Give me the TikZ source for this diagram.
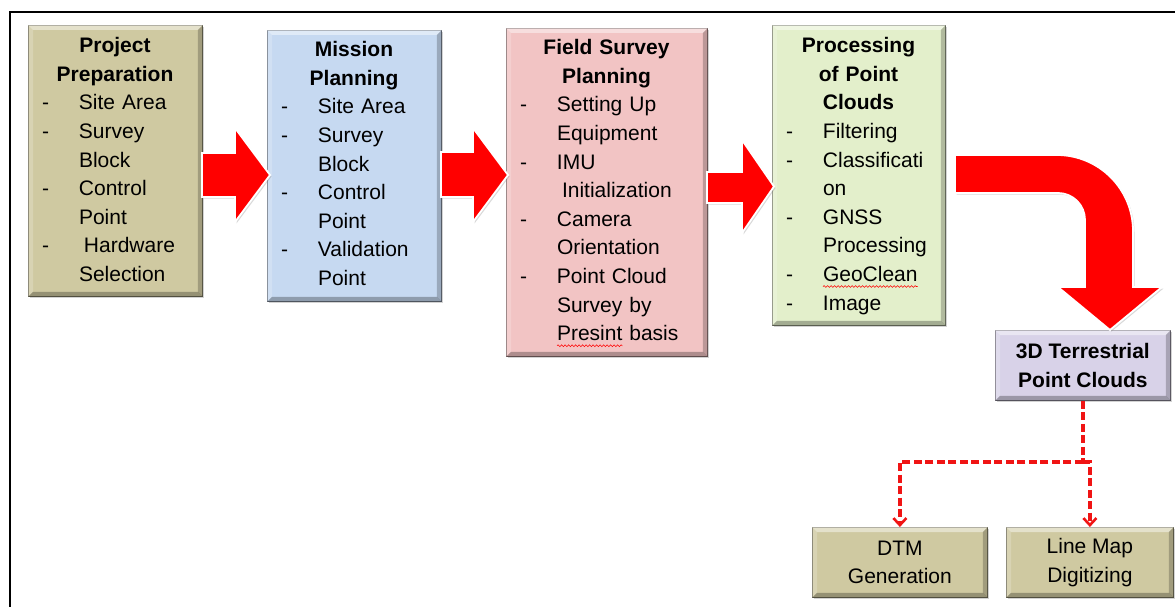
\documentclass[tikz,border=0pt]{standalone}
\usepackage{fontspec}
\setmainfont{Liberation Sans}
\usetikzlibrary{shadows,arrows.meta,decorations.pathmorphing}
\definecolor{tanc}{RGB}{207,201,161}
\definecolor{bluec}{RGB}{198,217,241}
\definecolor{pinkc}{RGB}{242,196,196}
\definecolor{greenc}{RGB}{227,239,203}
\definecolor{lavc}{RGB}{216,210,232}
\definecolor{arrred}{RGB}{255,0,0}
\definecolor{dashred}{RGB}{240,20,20}
\newcommand\tfont{\fontsize{21}{28.6}\selectfont}
\newcommand\nl{\hfil\break}
\newcommand\itm[1]{\par\hangindent=37pt\hangafter=1\noindent\makebox[37pt][l]{-}#1}
\newsavebox\spbox
\newlength\splen
\newcommand\spell[1]{\sbox\spbox{#1}\setlength\splen{\wd\spbox}\rlap{\usebox\spbox}\tikz[overlay,baseline=0pt,x=1pt,y=1pt]\draw[red,line width=.6pt,decorate,decoration={snake,amplitude=.9pt,segment length=3.5pt}] (0,-5) -- (\splen,-5);\hspace*{\splen}}
\tikzset{
  bevel/.style={rectangle, fill=#1, draw=#1!55!black, line width=.8pt, inner sep=0pt, anchor=north west,
    drop shadow={shadow xshift=2pt,shadow yshift=-2pt,opacity=.35}},
  txt/.style={anchor=north, inner sep=0pt, font=\tfont},
  blockarrow/.style={fill=arrred, draw=white, line width=1.8pt, line join=miter,
    drop shadow={shadow xshift=1.5pt,shadow yshift=-1.5pt,opacity=.3}},
  dashconn/.style={draw=dashred, line width=3.4pt, dash pattern=on 8pt off 3.5pt},
  barb/.style={-{Straight Barb[length=7pt,width=13pt,line width=2.6pt]}}
}
\begin{document}
\begin{tikzpicture}[x=1pt,y=1pt]
\useasboundingbox (0,0) rectangle (1175,-607);
% frame
\draw[line width=2pt] (10,-607) -- (10,-12.5) -- (1175,-12.5);

% boxes
\node[bevel=tanc, minimum width=174pt, minimum height=271pt] (b1) at (28,-25) {};
\node[bevel=bluec, minimum width=174pt, minimum height=271pt] (b2) at (267,-30) {};
\node[bevel=pinkc, minimum width=201pt, minimum height=328pt] (b3) at (506,-28) {};
\node[bevel=greenc, minimum width=173pt, minimum height=300pt] (b4) at (772,-25) {};
\node[bevel=lavc, minimum width=175pt, minimum height=70pt, font=\tfont\bfseries, align=center] (b5) at (995,-330) {3D Terrestrial\\Point Clouds};
\node[bevel=tanc, minimum width=175pt, minimum height=70pt, font=\tfont, align=center] (b6) at (812,-527) {DTM\\Generation};
\node[bevel=tanc, minimum width=167pt, minimum height=70pt, font=\tfont, align=center] (b7) at (1006,-527) {Line Map\\Digitizing};

% bevel effect
\foreach \n in {b1,b2,b3,b4,b5,b6,b7}{
  \fill[white,opacity=.45] (\n.north west) -- (\n.north east) -- ([shift={(-5,-5)}]\n.north east) -- ([shift={(5,-5)}]\n.north west) -- cycle;
  \fill[white,opacity=.2] (\n.north west) -- ([shift={(5,-5)}]\n.north west) -- ([shift={(5,5)}]\n.south west) -- (\n.south west) -- cycle;
  \fill[black,opacity=.22] (\n.north east) -- (\n.south east) -- ([shift={(-5,5)}]\n.south east) -- ([shift={(-5,-5)}]\n.north east) -- cycle;
  \fill[black,opacity=.28] (\n.south west) -- (\n.south east) -- ([shift={(-5,5)}]\n.south east) -- ([shift={(5,5)}]\n.south west) -- cycle;
}

% texts
\node[txt, text width=146pt] (t1) at (115,-32.5) {\raggedright
{\centering\bfseries\strut Project\\Preparation\par}%
\itm{Site Area}\itm{Survey\nl Block}\itm{Control\nl Point}\itm{\hspace*{5pt}Hardware\nl Selection}\par};
\node[txt, text width=146pt] (t2) at (354,-36.5) {\raggedright
{\centering\bfseries\strut Mission\\Planning\par}%
\itm{Site Area}\itm{Survey\nl Block}\itm{Control\nl Point}\itm{Validation\nl Point}\par};
\node[txt, text width=173pt] (t3) at (606.5,-34.5) {\raggedright
{\centering\bfseries\strut Field Survey\\Planning\par}%
\itm{Setting Up\nl Equipment}\itm{IMU\nl \hspace*{5pt}Initialization}\itm{Camera\nl Orientation}\itm{Point Cloud\nl Survey by\nl \spell{Presint} basis}\par};
\node[txt, text width=145pt] (t4) at (858.5,-32.5) {\raggedright
{\centering\bfseries\strut Processing\\of Point\\Clouds\par}%
\itm{Filtering}\itm{Classificati\nl on}\itm{GNSS\nl Processing}\itm{\spell{GeoClean}}\itm{Image}\par};

% block arrows
\path[blockarrow] (202,-153) -- (235,-153) -- (235,-128) -- (270,-175) -- (235,-222) -- (235,-197) -- (202,-197) -- cycle;
\path[blockarrow] (441,-152) -- (473,-152) -- (473,-128) -- (508,-175) -- (473,-222) -- (473,-197) -- (441,-197) -- cycle;
\path[blockarrow] (707,-172) -- (742,-172) -- (742,-140) -- (774,-186.5) -- (742,-233) -- (742,-203) -- (707,-203) -- cycle;
% bent arrow
\path[blockarrow] (955,-155) -- (1057,-155) arc[start angle=90,end angle=0,radius=76] -- (1133,-287) -- (1162,-287) -- (1110,-330) -- (1058,-287) -- (1085,-287) -- (1085,-220) arc[start angle=0,end angle=90,radius=27] -- (955,-193) -- cycle;

% dashed connectors
\coordinate (jy) at (0,-462);
\coordinate (jn) at (b5.south |- jy);
\draw[dashconn] (b5.south) -- (jn);
\draw[dashconn,barb] (jn) -| (b6.north);
\draw[dashconn,barb] (jn) -| (b7.north);
\end{tikzpicture}
\end{document}
